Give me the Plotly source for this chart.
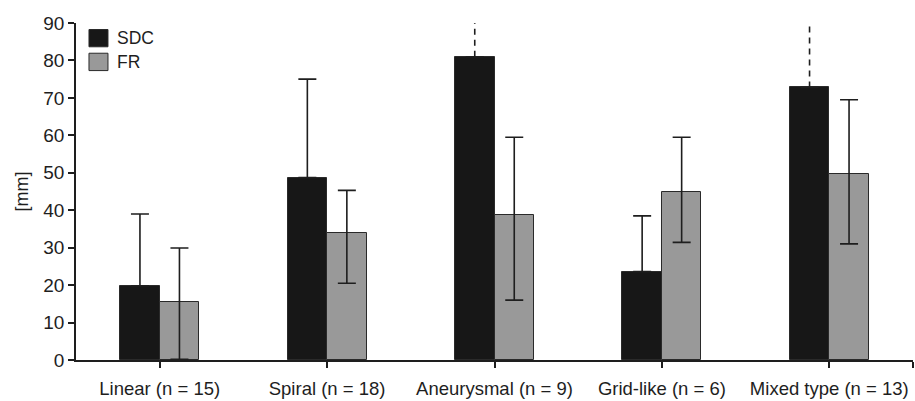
import plotly.graph_objects as go

categories = ["Linear (n = 15)", "Spiral (n = 18)", "Aneurysmal (n = 9)",
              "Grid-like (n = 6)", "Mixed type (n = 13)"]
sdc_mean = [19.8, 48.7, 81.0, 23.6, 72.8]
sdc_err_up = [19.2, 26.3, None, 14.9, None]   # None = off scale (dashed)
fr_mean = [15.5, 34.0, 38.7, 45.0, 49.8]
fr_err_up = [14.4, 11.3, 20.8, 14.5, 19.7]
fr_err_down = [15.3, 13.5, 22.7, 13.6, 18.8]
y_ticks = [0, 10, 20, 30, 40, 50, 60, 70, 80, 90]
y_max = 90
series_names = ["SDC", "FR"]

FONT = "Liberation Sans, Arial, sans-serif"
TXT = "#1e1e1e"
SDC_COL = "#171717"
FR_COL = "#999999"
EDGE = "#2a2a2a"
BW = 0.236

xs = list(range(len(categories)))

fig = go.Figure()
fig.add_trace(go.Bar(
    x=xs, y=sdc_mean, width=BW, offset=-BW, name=series_names[0],
    marker=dict(color=SDC_COL, line=dict(color=EDGE, width=1)),
    error_y=dict(type="data", symmetric=False,
                 array=[e if e is not None else 0 for e in sdc_err_up],
                 arrayminus=[0] * len(xs),
                 color=TXT, thickness=1.6, width=9),
    showlegend=False,
))
fig.add_trace(go.Bar(
    x=xs, y=fr_mean, width=BW, offset=0, name=series_names[1],
    marker=dict(color=FR_COL, line=dict(color=EDGE, width=1)),
    error_y=dict(type="data", symmetric=False, array=fr_err_up,
                 arrayminus=fr_err_down, color=TXT, thickness=1.6, width=9),
    showlegend=False,
))

# dashed off-scale error bars
for i, e in enumerate(sdc_err_up):
    if e is None:
        fig.add_trace(go.Scatter(
            x=[i - BW / 2, i - BW / 2], y=[sdc_mean[i], y_max + 0.5],
            mode="lines", line=dict(color=TXT, width=1.6, dash="6px,5px"),
            showlegend=False, hoverinfo="skip", cliponaxis=False,
        ))

# manual legend
x0, x1 = 0.0155, 0.0382
leg = [(series_names[0], SDC_COL, 0.9807, 0.9294),
       (series_names[1], FR_COL, 0.9103, 0.8588)]
for name, col, ytop, ybot in leg:
    fig.add_shape(type="rect", xref="paper", yref="paper",
                  x0=x0, x1=x1, y0=ybot, y1=ytop,
                  fillcolor=col, line=dict(color=EDGE, width=1))
    fig.add_annotation(xref="paper", yref="paper", x=0.047, y=(ytop + ybot) / 2,
                       text=name, showarrow=False, xanchor="left", yanchor="middle",
                       font=dict(family=FONT, size=17.5, color=TXT))

fig.update_layout(
    width=915, height=401,
    margin=dict(l=76, r=2, t=23, b=41),
    paper_bgcolor="white", plot_bgcolor="white",
    font=dict(family=FONT, size=18, color=TXT),
    bargap=0,
    xaxis=dict(range=[-0.5, 4.5], tickvals=xs + [4.5], ticktext=categories + [""],
               showline=True, linecolor=TXT, linewidth=1.5, ticks="outside",
               ticklen=6, tickwidth=1.5, tickcolor=TXT, showgrid=False,
               zeroline=False, tickfont=dict(size=18.5), automargin=False,
               ticklabelstandoff=5),
    yaxis=dict(range=[0, y_max], tickvals=y_ticks, showline=True, linecolor=TXT,
               linewidth=1.5, ticks="outside", ticklen=6, tickwidth=1.5,
               tickcolor=TXT, showgrid=False, zeroline=False,
               tickfont=dict(size=19), automargin=False,
               title=dict(text="[mm]", font=dict(size=18), standoff=10)),
)

fig.write_html("out.html", config={"displayModeBar": False},
               post_script="document.body.style.margin='0';")
